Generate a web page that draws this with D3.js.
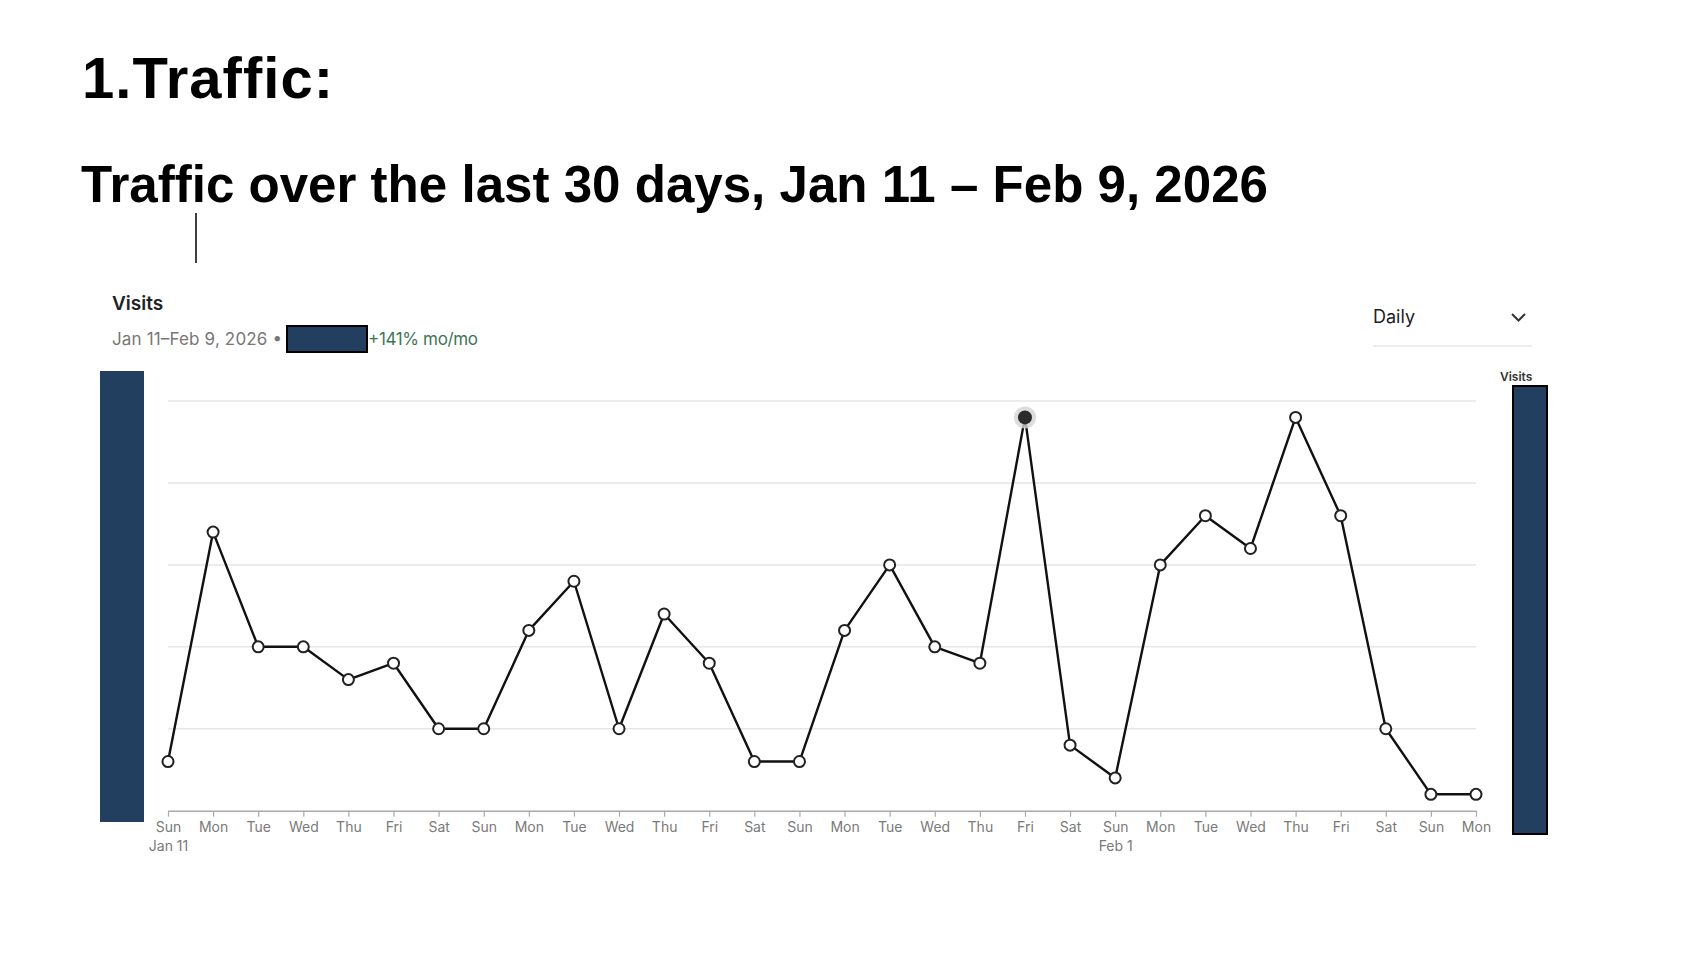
<!DOCTYPE html>
<html>
<head>
<meta charset="utf-8">
<script src="https://cdn.jsdelivr.net/npm/d3@7"></script>
<style>
  body { margin: 0; background: #fff; }
  svg { display: block; }
</style>
</head>
<body>
<svg id="page" width="1688" height="960"></svg>
<script>
// daily visits, Jan 11 - Feb 9, 2026
var dayLabels = ["Sun","Mon","Tue","Wed","Thu","Fri","Sat",
                 "Sun","Mon","Tue","Wed","Thu","Fri","Sat",
                 "Sun","Mon","Tue","Wed","Thu","Fri","Sat",
                 "Sun","Mon","Tue","Wed","Thu","Fri","Sat",
                 "Sun","Mon"];
var dateLabels = {0: "Jan 11", 21: "Feb 1"};
var visits = [3,17,10,10,8,9,5, 5,11,14,5,12,9,3, 3,11,15,10,9,24,4, 2,15,18,16,24,18,5, 1,1];
var gridValues = [5, 10, 15, 20, 25];
var highlightIndex = 19;

var svg = d3.select("#page");
var navy = "#223f60";

// slide headings
svg.append("text")
    .attr("x", 82).attr("y", 98)
    .attr("font-family", "Liberation Sans, Arial, sans-serif")
    .attr("font-weight", "bold")
    .attr("font-size", "58px")
    .attr("textLength", 251)
    .attr("lengthAdjust", "spacing")
    .attr("fill", "#000")
    .text("1.Traffic:");

svg.append("text")
    .attr("x", 81).attr("y", 202)
    .attr("font-family", "Liberation Sans, Arial, sans-serif")
    .attr("font-weight", "bold")
    .attr("font-size", "52px")
    .attr("textLength", 1187)
    .attr("lengthAdjust", "spacingAndGlyphs")
    .attr("fill", "#000")
    .text("Traffic over the last 30 days, Jan 11 \u2013 Feb 9, 2026");

// text cursor
svg.append("line")
    .attr("x1", 196).attr("x2", 196)
    .attr("y1", 213).attr("y2", 263)
    .style("stroke", "#000")
    .style("stroke-width", 1.5);

// card header
var ui = "Inter, 'Noto Sans', sans-serif";
svg.append("text")
    .attr("x", 112).attr("y", 310)
    .attr("font-family", ui)
    .attr("font-weight", 600)
    .attr("font-size", "19px")
    .attr("fill", "#222")
    .text("Visits");

svg.append("text")
    .attr("x", 112).attr("y", 345)
    .attr("font-family", ui)
    .attr("font-size", "17px")
    .attr("textLength", 170)
    .attr("fill", "#777")
    .text("Jan 11\u2013Feb 9, 2026 \u2022");

svg.append("rect")
    .attr("x", 287).attr("y", 326)
    .attr("width", 80).attr("height", 26)
    .style("fill", navy)
    .style("stroke", "#000")
    .style("stroke-width", 2);

svg.append("text")
    .attr("x", 368).attr("y", 345)
    .attr("font-family", ui)
    .attr("font-size", "17px")
    .attr("textLength", 110)
    .attr("fill", "#3f7556")
    .text("+141% mo/mo");

// period dropdown
svg.append("text")
    .attr("x", 1373).attr("y", 323)
    .attr("font-family", ui)
    .attr("font-size", "18px")
    .attr("fill", "#222")
    .text("Daily");

svg.append("path")
    .attr("d", "M1512,314 L1518.5,320.5 L1525,314")
    .style("fill", "none")
    .style("stroke", "#333")
    .style("stroke-width", 2);

svg.append("line")
    .attr("x1", 1373).attr("x2", 1532)
    .attr("y1", 346).attr("y2", 346)
    .style("stroke", "#ececec")
    .style("stroke-width", 2);

// scales
var x = d3.scalePoint()
    .domain(d3.range(visits.length))
    .range([168, 1476]);

var y = d3.scaleLinear()
    .domain([0, 25])
    .range([810.7, 401]);

// gridlines
svg.selectAll("line.grid")
    .data(gridValues)
    .enter()
    .append("line")
    .attr("class", "grid")
    .attr("x1", 168)
    .attr("x2", 1476)
    .attr("y1", d => y(d))
    .attr("y2", d => y(d))
    .style("stroke", "#e6e6e6")
    .style("stroke-width", 1.5);

// x axis
var xAxis = svg.append("g")
    .attr("transform", "translate(0," + y(0) + ")")
    .call(d3.axisBottom(x)
        .tickSize(6)
        .tickPadding(5)
        .tickSizeOuter(0)
        .tickFormat(i => dayLabels[i]));

xAxis.select(".domain").style("stroke", "#aaa").style("stroke-width", 1.5);
xAxis.selectAll(".tick line").style("stroke", "#aaa").style("stroke-width", 1.2);
xAxis.selectAll(".tick text")
    .attr("font-family", ui)
    .attr("font-size", "14px")
    .attr("fill", "#7a7a7a");

xAxis.selectAll(".tick")
    .filter(i => dateLabels[i])
    .append("text")
    .attr("y", 30)
    .attr("dy", "0.71em")
    .attr("text-anchor", "middle")
    .attr("font-family", ui)
    .attr("font-size", "14px")
    .attr("fill", "#7a7a7a")
    .text(i => dateLabels[i]);

// visits line
var line = d3.line()
    .x((d, i) => x(i))
    .y(d => y(d));

svg.append("path")
    .datum(visits)
    .attr("d", line)
    .style("fill", "none")
    .style("stroke", "#111")
    .style("stroke-width", 2.4)
    .style("stroke-linejoin", "round");

var points = visits
    .map((v, i) => ({ i: i, v: v }))
    .filter(d => d.i !== highlightIndex);

svg.selectAll("circle.point")
    .data(points)
    .enter()
    .append("circle")
    .attr("class", "point")
    .attr("cx", d => x(d.i))
    .attr("cy", d => y(d.v))
    .attr("r", 5.5)
    .style("fill", "#fff")
    .style("stroke", "#222")
    .style("stroke-width", 2);

// hovered point
svg.append("circle")
    .attr("cx", x(highlightIndex))
    .attr("cy", y(visits[highlightIndex]))
    .attr("r", 11)
    .style("fill", "#d4d4d4")
    .style("opacity", 0.8);

svg.append("circle")
    .attr("cx", x(highlightIndex))
    .attr("cy", y(visits[highlightIndex]))
    .attr("r", 7)
    .style("fill", "#2b2b2b");

// redaction blocks
svg.append("rect")
    .attr("x", 100).attr("y", 371)
    .attr("width", 44).attr("height", 451)
    .style("fill", navy);

svg.append("text")
    .attr("x", 1500).attr("y", 381)
    .attr("font-family", ui)
    .attr("font-weight", 600)
    .attr("font-size", "12px")
    .attr("fill", "#333")
    .text("Visits");

svg.append("rect")
    .attr("x", 1513).attr("y", 386)
    .attr("width", 34).attr("height", 448)
    .style("fill", navy)
    .style("stroke", "#000")
    .style("stroke-width", 2);
</script>
</body>
</html>
